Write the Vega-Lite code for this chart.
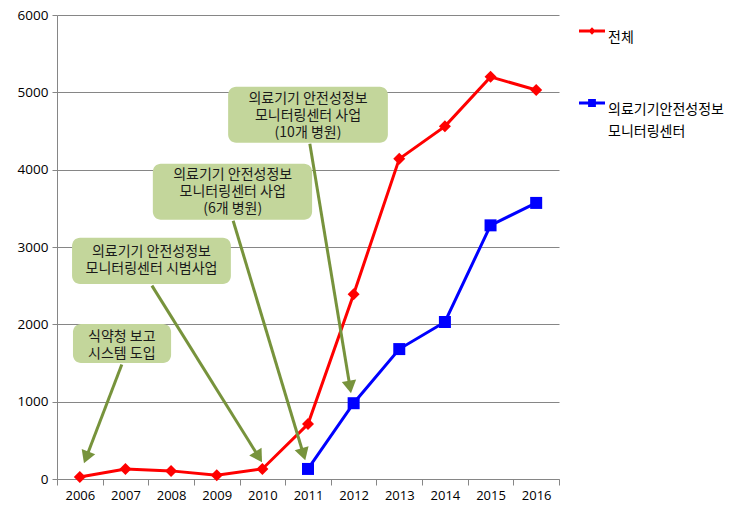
{
  "$schema": "https://vega.github.io/schema/vega-lite/v6.json",
  "width": 502,
  "height": 464,
  "autosize": {"type": "none"},
  "padding": {"left": 57, "top": 15, "right": 178, "bottom": 35},
  "background": "#ffffff",
  "config": {"view": {"stroke": null}, "font": "Noto Sans CJK KR"},
  "datasets": {
    "counts": [
      {"year": 2006, "series": "전체", "value": 25},
      {"year": 2007, "series": "전체", "value": 130},
      {"year": 2008, "series": "전체", "value": 105},
      {"year": 2009, "series": "전체", "value": 50},
      {"year": 2010, "series": "전체", "value": 130},
      {"year": 2011, "series": "전체", "value": 710},
      {"year": 2012, "series": "전체", "value": 2390},
      {"year": 2013, "series": "전체", "value": 4140},
      {"year": 2014, "series": "전체", "value": 4560},
      {"year": 2015, "series": "전체", "value": 5200},
      {"year": 2016, "series": "전체", "value": 5030},
      {"year": 2011, "series": "의료기기안전성정보모니터링센터", "value": 130},
      {"year": 2012, "series": "의료기기안전성정보모니터링센터", "value": 980},
      {"year": 2013, "series": "의료기기안전성정보모니터링센터", "value": 1680},
      {"year": 2014, "series": "의료기기안전성정보모니터링센터", "value": 2030},
      {"year": 2015, "series": "의료기기안전성정보모니터링센터", "value": 3280},
      {"year": 2016, "series": "의료기기안전성정보모니터링센터", "value": 3570}
    ],
    "notes": [
      {"note": 1, "bx1": 2005.85, "bx2": 2008.0, "by1": 1501, "by2": 2005, "tx": 2006.92, "ty": 1837, "text": "식약청 보고\n시스템 도입", "ax1": 2006.92, "ay1": 1480, "ax2": 2006.14, "ay2": 279},
      {"note": 2, "bx1": 2005.83, "bx2": 2009.31, "by1": 2523, "by2": 3118, "tx": 2007.57, "ty": 2937, "text": "의료기기 안전성정보\n모니터링센터 시범사업", "ax1": 2007.58, "ay1": 2500, "ax2": 2009.92, "ay2": 286},
      {"note": 3, "bx1": 2007.6, "bx2": 2011.09, "by1": 3351, "by2": 4075, "tx": 2009.35, "ty": 3933, "text": "의료기기 안전성정보\n모니터링센터 사업\n(6개 병원)", "ax1": 2009.36, "ay1": 3340, "ax2": 2010.9, "ay2": 320},
      {"note": 4, "bx1": 2009.25, "bx2": 2012.75, "by1": 4347, "by2": 5071, "tx": 2011.0, "ty": 4916, "text": "의료기기 안전성정보\n모니터링센터 사업\n(10개 병원)", "ax1": 2011.04, "ay1": 4334, "ax2": 2011.92, "ay2": 1190}
    ]
  },
  "layer": [
    {
      "data": {"name": "counts"},
      "encoding": {
        "x": {
          "field": "year",
          "type": "ordinal",
          "scale": {"type": "band", "paddingInner": 0, "paddingOuter": 0},
          "axis": {
            "title": null,
            "tickBand": "extent",
            "labelAngle": 0,
            "domainColor": "#868686",
            "tickColor": "#868686",
            "tickSize": 6,
            "labelFont": "Open Sans",
            "labelFontSize": 13,
            "labelColor": "#000000",
            "labelPadding": 4
          }
        },
        "y": {
          "field": "value",
          "type": "quantitative",
          "scale": {"domain": [0, 6000], "nice": false},
          "axis": {
            "title": null,
            "values": [0, 1000, 2000, 3000, 4000, 5000, 6000],
            "format": "d",
            "grid": true,
            "gridColor": "#868686",
            "domainColor": "#868686",
            "tickColor": "#868686",
            "tickSize": 5,
            "labelFont": "Open Sans",
            "labelFontSize": 13.5,
            "labelColor": "#000000",
            "labelPadding": 4
          }
        },
        "color": {
          "field": "series",
          "type": "nominal",
          "scale": {"domain": ["전체", "의료기기안전성정보모니터링센터"], "range": ["#ff0000", "#0000ff"]},
          "legend": {
            "orient": "none",
            "legendX": 522,
            "legendY": 3,
            "title": null,
            "padding": 0,
            "symbolSize": 676,
            "labelFont": "Noto Sans CJK KR",
            "labelFontSize": 14,
            "labelColor": "#000000",
            "labelBaseline": "top",
            "labelOffset": 3,
            "labelLimit": 0,
            "rowPadding": 45,
            "labelExpr": "datum.label == '전체' ? datum.label : ['의료기기안전성정보', '모니터링센터']",
            "encode": {
              "symbols": {
                "update": {
                  "shape": {"signal": "datum.value == '전체' ? 'M-1,-0.115H1V0.115H-1Z M0,-0.28L0.28,0L0,0.28L-0.28,0Z' : 'M-1,-0.115H1V0.115H-1Z M-0.3,-0.3H0.3V0.3H-0.3Z'"},
                  "fill": {"scale": "color", "field": "value"},
                  "stroke": {"value": "transparent"},
                  "strokeWidth": {"value": 0},
                  "opacity": {"value": 1}
                }
              },
              "labels": {"update": {"lineHeight": {"value": 22}}}
            }
          }
        }
      },
      "layer": [
        {"mark": {"type": "line", "strokeWidth": 3}},
        {
          "transform": [{"filter": "datum.series == '전체'"}],
          "mark": {"type": "point", "shape": "diamond", "filled": true, "opacity": 1, "size": 144}
        },
        {
          "transform": [{"filter": "datum.series != '전체'"}],
          "mark": {"type": "point", "shape": "square", "filled": true, "opacity": 1, "size": 144}
        }
      ]
    },
    {
      "data": {"name": "notes"},
      "transform": [
        {"calculate": "atan2((datum.ax2 - datum.ax1) * 45.64, (datum.ay2 - datum.ay1) * 0.0773) * 180 / PI", "as": "angle"}
      ],
      "layer": [
        {
          "mark": {"type": "rule", "color": "#77933c", "strokeWidth": 3},
          "encoding": {
            "x": {"field": "ax1", "type": "quantitative", "scale": {"domain": [2005.5, 2016.5], "nice": false, "zero": false}, "axis": null},
            "x2": {"field": "ax2"},
            "y": {"field": "ay1", "type": "quantitative", "scale": {"domain": [0, 6000], "nice": false}},
            "y2": {"field": "ay2"}
          }
        },
        {
          "mark": {"type": "point", "shape": "triangle-up", "filled": true, "color": "#77933c", "opacity": 1, "size": 210},
          "encoding": {
            "x": {"field": "ax2", "type": "quantitative", "scale": {"domain": [2005.5, 2016.5], "nice": false, "zero": false}, "axis": null},
            "y": {"field": "ay2", "type": "quantitative", "scale": {"domain": [0, 6000], "nice": false}},
            "angle": {"field": "angle", "type": "quantitative", "scale": null}
          }
        },
        {
          "mark": {"type": "rect", "cornerRadius": 8, "color": "#c3d69b", "opacity": 1},
          "encoding": {
            "x": {"field": "bx1", "type": "quantitative", "scale": {"domain": [2005.5, 2016.5], "nice": false, "zero": false}, "axis": null},
            "x2": {"field": "bx2"},
            "y": {"field": "by1", "type": "quantitative", "scale": {"domain": [0, 6000], "nice": false}},
            "y2": {"field": "by2"}
          }
        },
        {
          "mark": {"type": "text", "lineBreak": "\n", "align": "center", "baseline": "middle", "fontSize": 14, "lineHeight": 17, "color": "#1a1a1a", "font": "Noto Sans CJK KR"},
          "encoding": {
            "x": {"field": "tx", "type": "quantitative", "scale": {"domain": [2005.5, 2016.5], "nice": false, "zero": false}, "axis": null},
            "y": {"field": "ty", "type": "quantitative", "scale": {"domain": [0, 6000], "nice": false}},
            "text": {"field": "text"}
          }
        }
      ]
    }
  ],
  "resolve": {"scale": {"x": "independent"}}
}
